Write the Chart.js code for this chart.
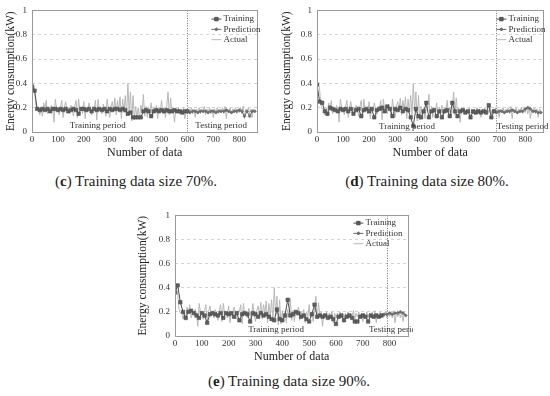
<!DOCTYPE html>
<html>
<head>
<meta charset="utf-8">
<script src="https://cdn.jsdelivr.net/npm/chart.js@4.4.1/dist/chart.umd.min.js"></script>
<style>
  html, body { margin: 0; padding: 0; background: #fff; }
  #page { position: relative; width: 550px; height: 396px; overflow: hidden; }
  .panel { position: absolute; }
  .caption {
    position: absolute;
    font-family: "Liberation Serif", serif;
    font-size: 15px;
    color: #222;
    white-space: nowrap;
    transform: translateX(-50%);
  }
</style>
</head>
<body>
<div id="page">
  <div class="panel" style="left:0px;top:0px"><canvas id="chart-c" width="262" height="162"></canvas></div>
  <div class="panel" style="left:276px;top:0px"><canvas id="chart-d" width="272" height="162"></canvas></div>
  <div class="panel" style="left:132px;top:205px"><canvas id="chart-e" width="281" height="161"></canvas></div>
  <div class="caption" style="left:136px;top:173px">(<b>c</b>) Training data size 70%.</div>
  <div class="caption" style="left:427px;top:173px">(<b>d</b>) Training data size 80%.</div>
  <div class="caption" style="left:289px;top:373px">(<b>e</b>) Training data size 90%.</div>
</div>
<script>
// ---- data ----
// actual load, one value every 5 samples from 0 to 860
const actualStep = 5;
const actualVals = [
  0.37, 0.40, 0.35, 0.22, 0.19, 0.20, 0.14, 0.20, 0.13, 0.24, 0.19, 0.26, 0.15, 0.20, 0.18, 0.22, 0.19, 0.08, 0.27, 0.19,
  0.20, 0.14, 0.21, 0.26, 0.12, 0.20, 0.25, 0.17, 0.20, 0.15, 0.22, 0.19, 0.13, 0.21, 0.26, 0.12, 0.27, 0.18, 0.20, 0.15,
  0.25, 0.11, 0.20, 0.17, 0.24, 0.19, 0.14, 0.21, 0.20, 0.26, 0.10, 0.27, 0.18, 0.20, 0.15, 0.23, 0.19, 0.13, 0.27, 0.18,
  0.12, 0.21, 0.25, 0.17, 0.28, 0.14, 0.26, 0.19, 0.29, 0.11, 0.27, 0.16, 0.30, 0.13, 0.40, 0.17, 0.33, 0.09, 0.30, 0.10,
  0.21, 0.12, 0.20, 0.11, 0.22, 0.17, 0.31, 0.13, 0.21, 0.12, 0.20, 0.17, 0.24, 0.13, 0.20, 0.16, 0.22, 0.11, 0.20, 0.16,
  0.26, 0.15, 0.20, 0.12, 0.21, 0.33, 0.14, 0.28, 0.16, 0.20, 0.08, 0.19, 0.16, 0.20, 0.15, 0.19, 0.16, 0.20, 0.11, 0.19,
  0.15, 0.19, 0.16, 0.20, 0.15, 0.19, 0.12, 0.19, 0.16, 0.20, 0.15, 0.19, 0.16, 0.21, 0.14, 0.19, 0.16, 0.20, 0.15, 0.19,
  0.12, 0.19, 0.16, 0.20, 0.15, 0.19, 0.16, 0.20, 0.15, 0.21, 0.11, 0.19, 0.16, 0.20, 0.15, 0.19, 0.16, 0.20, 0.15, 0.19,
  0.16, 0.20, 0.15, 0.21, 0.11, 0.19, 0.16, 0.20, 0.15, 0.19, 0.12, 0.19, 0.17
];

// model output, one value every 10 samples
const fitStep = 10;

// (c) 70% training
const trainC = [
  0.37, 0.34, 0.19, 0.18, 0.19, 0.18, 0.19, 0.17, 0.19, 0.19,
  0.18, 0.19, 0.18, 0.19, 0.17, 0.18, 0.19, 0.18, 0.15, 0.19,
  0.19, 0.18, 0.19, 0.17, 0.19, 0.18, 0.19, 0.18, 0.19, 0.17,
  0.19, 0.18, 0.19, 0.19, 0.18, 0.19, 0.18, 0.15, 0.16, 0.12,
  0.12, 0.12, 0.12, 0.17, 0.18, 0.17, 0.13, 0.17, 0.18, 0.17,
  0.18, 0.17, 0.18, 0.17, 0.17, 0.18, 0.17, 0.17, 0.16, 0.17,
  0.17
];
const predStartC = 600;
const predC = [
  0.17, 0.16, 0.17, 0.17, 0.16, 0.17, 0.17, 0.17, 0.16, 0.17,
  0.17, 0.16, 0.17, 0.17, 0.17, 0.18, 0.17, 0.16, 0.17, 0.17,
  0.18, 0.17, 0.13, 0.17, 0.13, 0.17, 0.17
];

// (d) 80% training
const trainD = [
  0.39, 0.25, 0.24, 0.17, 0.15, 0.20, 0.19, 0.18, 0.17, 0.19,
  0.18, 0.19, 0.17, 0.19, 0.15, 0.18, 0.19, 0.13, 0.18, 0.19,
  0.17, 0.19, 0.12, 0.18, 0.19, 0.20, 0.17, 0.21, 0.19, 0.13,
  0.19, 0.18, 0.20, 0.17, 0.19, 0.18, 0.12, 0.05, 0.19, 0.13,
  0.12, 0.17, 0.24, 0.12, 0.17, 0.18, 0.13, 0.17, 0.12, 0.17,
  0.18, 0.13, 0.24, 0.17, 0.13, 0.17, 0.18, 0.16, 0.17, 0.12,
  0.17, 0.16, 0.17, 0.16, 0.17, 0.16, 0.22, 0.12, 0.17
];
const predStartD = 680;
const predD = [
  0.17, 0.16, 0.17, 0.17, 0.16, 0.17, 0.17, 0.18, 0.17, 0.16,
  0.17, 0.17, 0.19, 0.20, 0.19, 0.17, 0.17, 0.16, 0.16
];

// (e) 90% training
const trainE = [
  0.36, 0.42, 0.28, 0.20, 0.15, 0.20, 0.21, 0.19, 0.17, 0.15,
  0.19, 0.17, 0.11, 0.18, 0.19, 0.18, 0.17, 0.19, 0.15, 0.19,
  0.18, 0.19, 0.16, 0.19, 0.13, 0.18, 0.19, 0.18, 0.12, 0.19,
  0.18, 0.16, 0.19, 0.17, 0.18, 0.16, 0.14, 0.13, 0.22, 0.14,
  0.13, 0.17, 0.30, 0.17, 0.18, 0.20, 0.19, 0.16, 0.17, 0.14,
  0.12, 0.18, 0.26, 0.16, 0.17, 0.16, 0.17, 0.15, 0.16, 0.14,
  0.10, 0.16, 0.17, 0.13, 0.16, 0.17, 0.15, 0.12, 0.12, 0.16,
  0.17, 0.16, 0.12, 0.17, 0.16, 0.17, 0.16, 0.17
];
const predStartE = 770;
const predE = [0.17, 0.18, 0.18, 0.19, 0.18, 0.19, 0.19, 0.20, 0.19, 0.17];

const yTicks = [0, 0.2, 0.4, 0.6, 0.8, 1];
const xTickStep = 100;
const xMax = 870;

const serif = '"Liberation Serif", "Times New Roman", serif';

function toPoints(values, start, step) {
  return values.map((v, i) => ({ x: start + i * step, y: v }));
}

// frame, split line, period notes and the small legend inside the plot
const panelDecor = {
  id: 'panelDecor',
  afterDatasetsDraw(chart, args, opts) {
    const { ctx, chartArea: a, scales } = chart;
    ctx.save();
    // split line
    const sx = scales.x.getPixelForValue(opts.split);
    ctx.strokeStyle = '#6e6e6e';
    ctx.lineWidth = 1;
    ctx.setLineDash([1, 1.5]);
    ctx.beginPath();
    ctx.moveTo(Math.round(sx) + 0.5, a.top);
    ctx.lineTo(Math.round(sx) + 0.5, a.bottom);
    ctx.stroke();
    ctx.setLineDash([]);
    // frame
    ctx.strokeStyle = '#9a9a9a';
    ctx.strokeRect(Math.round(a.left) + 0.5, Math.round(a.top) + 0.5, Math.round(a.width), Math.round(a.height));
    // period notes
    ctx.font = '9px ' + serif;
    ctx.fillStyle = '#333';
    ctx.textAlign = 'center';
    ctx.textBaseline = 'middle';
    opts.notes.forEach(n => {
      ctx.fillText(n.text, scales.x.getPixelForValue(n.x), scales.y.getPixelForValue(n.y));
    });
    // legend
    const lx = a.right - opts.legendRight;
    ctx.textAlign = 'left';
    chart.data.datasets.forEach((ds, i) => {
      const ly = a.top + opts.legendTop + i * 10.3;
      ctx.strokeStyle = ds.borderColor;
      ctx.lineWidth = ds.borderWidth;
      ctx.beginPath();
      ctx.moveTo(lx, ly);
      ctx.lineTo(lx + 10, ly);
      ctx.stroke();
      if (ds.pointRadius > 0) {
        ctx.fillStyle = ds.backgroundColor;
        Chart.helpers.drawPoint(ctx, { pointStyle: ds.pointStyle, radius: ds.pointRadius, rotation: 0, borderWidth: 1 }, lx + 5, ly);
      }
      ctx.fillStyle = '#333';
      ctx.fillText(ds.label, lx + 12, ly);
    });
    ctx.restore();
  }
};
Chart.register(panelDecor);

function buildPanel(id, train, predStart, pred, decor, axisW) {
  return new Chart(document.getElementById(id), {
    type: 'line',
    data: {
      datasets: [
        {
          label: 'Training',
          data: toPoints(train, 0, fitStep),
          borderColor: '#4e4e4e',
          backgroundColor: '#5e5e5e',
          pointStyle: 'rect',
          pointRadius: 2.4,
          pointBorderWidth: 0.6,
          borderWidth: 1
        },
        {
          label: 'Prediction',
          data: toPoints(pred, predStart, fitStep),
          borderColor: '#666666',
          backgroundColor: '#707070',
          pointStyle: 'rectRot',
          pointRadius: 1.6,
          pointBorderWidth: 0.6,
          borderWidth: 1
        },
        {
          label: 'Actual',
          data: toPoints(actualVals, 0, actualStep),
          borderColor: '#b8b8b8',
          pointRadius: 0,
          borderWidth: 1
        }
      ]
    },
    options: {
      responsive: false,
      animation: false,
      devicePixelRatio: 1,
      layout: { padding: { top: 9, right: 4, left: 0, bottom: 0 } },
      plugins: {
        legend: { display: false },
        tooltip: { enabled: false },
        panelDecor: decor
      },
      scales: {
        x: {
          type: 'linear',
          min: 0,
          max: xMax,
          afterFit: s => { s.height = 30; },
          grid: { display: false, drawTicks: false },
          border: { display: false },
          ticks: {
            stepSize: xTickStep,
            includeBounds: false,
            padding: 2,
            maxRotation: 0,
            color: '#333',
            font: { family: serif, size: 9 }
          },
          title: {
            display: true,
            text: 'Number of data',
            color: '#222',
            padding: { top: 0, bottom: 2 },
            font: { family: serif, size: 12 }
          }
        },
        y: {
          min: 0,
          max: 1,
          afterFit: s => { s.width = axisW; },
          afterBuildTicks: s => { s.ticks = yTicks.map(v => ({ value: v })); },
          grid: { color: '#d4d4d4', drawTicks: false },
          border: { display: false, dash: [3, 3] },
          ticks: {
            padding: 5,
            color: '#333',
            font: { family: serif, size: 9 },
            callback: v => String(Number(v.toFixed(1)))
          },
          title: {
            display: true,
            text: 'Energy consumption(kW)',
            color: '#222',
            padding: { top: 4, bottom: 0 },
            font: { family: serif, size: 11.5 }
          }
        }
      }
    }
  });
}

buildPanel('chart-c', trainC, predStartC, predC, {
  split: 600, legendRight: 46, legendTop: 8.7,
  notes: [{ text: 'Training period', x: 254, y: 0.055 }, { text: 'Testing period', x: 730, y: 0.055 }]
}, 32);

buildPanel('chart-d', trainD, predStartD, predD, {
  split: 688, legendRight: 47, legendTop: 8.7,
  notes: [{ text: 'Training period', x: 346, y: 0.045 }, { text: 'Testing period', x: 790, y: 0.045 }]
}, 41);

buildPanel('chart-e', trainE, predStartE, predE, {
  split: 790, legendRight: 55, legendTop: 7.7,
  notes: [{ text: 'Training period', x: 377, y: 0.05 }, { text: 'Testing period', x: 819, y: 0.05 }]
}, 43);
</script>
</body>
</html>
